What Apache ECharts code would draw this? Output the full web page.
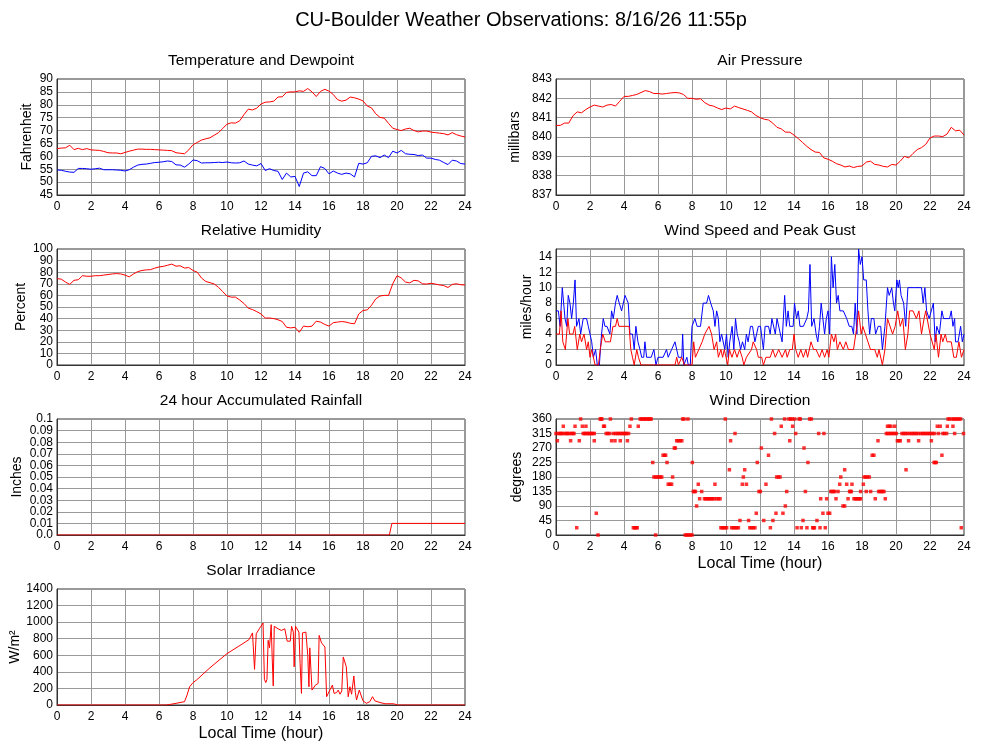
<!DOCTYPE html>
<html><head><meta charset="utf-8">
<script src="https://cdn.jsdelivr.net/npm/echarts@6/dist/echarts.min.js"></script>
<style>html,body{margin:0;padding:0;background:#fff}#c{width:1000px;height:745px}</style>
</head><body><div id="c"></div>
<script>
// ---- data ----
const STEP = 0.25; // hours between samples for the regular series
const tempF = [
 63.0,63.2,63.3,64.3, 62.6,63.1,62.6,63.0, 62.5,62.4,62.3,61.9, 61.4,61.3,61.3,61.0,
 61.5,62.0,62.4,62.8, 62.8,62.7,62.7,62.6, 62.5,62.4,62.3,62.2, 61.4,61.2,61.0,62.5,
 64.5,65.4,66.3,66.8, 67.2,68.2,69.2,70.8, 72.5,73.0,72.9,73.8, 76.2,78.3,78.0,78.7,
 80.3,81.0,81.1,81.4, 83.0,83.1,84.8,85.0, 85.0,85.4,85.2,86.3, 85.0,83.2,85.2,86.0,
 85.3,84.0,82.0,81.4, 81.8,83.0,82.7,82.2, 81.5,79.5,78.8,76.5, 75.1,74.8,72.8,70.9,
 70.4,70.0,70.6,70.9, 70.0,69.5,69.8,69.8, 69.4,69.2,69.0,68.8, 68.3,69.2,68.4,67.9, 67.5];
const dewF = [
 54.7,54.6,54.2,53.9, 53.8,55.3,55.3,55.2, 55.0,55.2,55.4,54.8, 54.8,54.8,54.7,54.6,
 54.3,54.8,55.8,56.6, 56.9,57.0,57.3,57.6, 57.7,57.9,58.2,58.0, 56.7,56.6,55.8,57.0,
 58.6,58.3,57.4,57.5, 57.5,57.6,57.7,57.6, 57.8,57.5,57.4,57.5, 58.2,57.0,56.6,56.3,
 57.2,54.5,55.2,54.5, 54.2,51.0,53.5,52.0, 52.2,48.3,53.5,54.0, 52.5,52.5,56.0,55.3,
 53.2,54.3,53.5,53.0, 53.5,53.2,52.0,57.3, 57.0,57.5,60.0,60.2, 59.5,60.5,59.5,62.0,
 61.3,62.3,61.0,60.8, 60.7,60.3,60.5,59.3, 59.3,58.8,58.5,57.6, 56.8,58.5,58.2,57.2, 57.0];
const pressureMb = [
 840.6,840.6,840.72,840.72, 841.1,841.3,841.25,841.42, 841.55,841.65,841.6,841.55, 841.65,841.68,841.6,841.85,
 842.1,842.1,842.15,842.2, 842.3,842.4,842.35,842.25, 842.25,842.22,842.25,842.28, 842.3,842.28,842.2,842.0,
 842.0,841.95,841.98,841.78, 841.65,841.6,841.5,841.42, 841.5,841.45,841.6,841.52, 841.45,841.38,841.3,841.12,
 841.0,840.92,840.88,840.72, 840.5,840.42,840.25,840.25, 840.1,839.92,839.72,839.52, 839.35,839.22,839.2,838.92,
 838.85,838.75,838.62,838.55, 838.45,838.5,838.42,838.48, 838.5,838.7,838.75,838.58, 838.55,838.48,838.45,838.58,
 838.55,838.75,839.0,838.92, 839.15,839.35,839.45,839.62, 839.95,840.05,840.05,840.02, 840.15,840.5,840.32,840.35, 840.1];
const humidityPct = [
 74.5,74.0,71.5,69.5, 73.0,73.5,77.0,76.5, 76.5,77.0,77.0,77.5, 78.0,78.5,78.8,78.5,
 77.5,76.0,78.5,80.5, 81.5,82.0,82.2,83.5, 84.5,85.0,86.0,87.0, 85.2,85.5,83.6,84.0,
 81.5,80.0,75.0,72.0, 71.0,69.8,67.0,63.2, 59.5,58.5,58.5,56.0, 53.0,49.0,47.8,46.0,
 44.0,40.5,40.5,40.0, 39.0,37.5,32.5,32.0, 32.5,28.2,33.5,33.0, 33.5,37.8,37.0,35.0,
 33.5,36.5,37.0,37.5, 37.0,36.0,35.5,44.0, 47.0,47.5,51.5,57.0, 59.5,60.0,60.0,70.0,
 77.0,75.0,71.5,70.8, 73.0,72.5,70.0,69.8, 70.5,69.8,69.0,68.5, 66.8,69.5,70.0,69.2, 69.0];
const windGust = [[0,7],[0.14,7],[0.24,5],[0.37,10],[0.53,6],[0.63,5],[0.72,9],[0.82,8],[0.92,6],[1.02,8],[1.12,11],[1.21,5],[1.35,6],[1.45,4],[1.6,6],[1.8,6],[1.9,5],[2.0,5],[2.1,3],[2.2,1],[2.33,2],[2.43,0],[2.55,0],[2.68,4],[2.78,6],[2.88,5],[3.0,5],[3.17,4],[3.27,7],[3.37,6],[3.5,8],[3.6,9],[3.72,8],[3.86,7],[3.96,7],[4.06,9],[4.15,9],[4.25,8],[4.35,4],[4.5,4],[4.6,2],[4.7,5],[4.82,3],[4.94,2],[5.04,1],[5.16,1],[5.23,3],[5.33,1],[5.6,1],[5.76,2],[5.88,0],[6.0,1],[6.3,1],[6.5,2],[6.6,1],[6.8,2],[7.0,3],[7.2,1],[7.4,1],[7.45,4],[7.52,0],[7.7,1],[7.78,0],[7.9,0],[8.0,5],[8.17,6],[8.3,5],[8.5,5],[8.66,8],[8.86,8],[8.97,9],[9.1,8],[9.25,7],[9.35,5],[9.45,7],[9.55,6],[9.64,3],[9.74,4],[9.83,4],[9.93,2],[10.03,4],[10.13,1],[10.22,3],[10.36,5],[10.46,2],[10.56,6],[10.66,4],[10.78,3],[10.86,2],[10.97,3],[11.1,2],[11.2,4],[11.3,3],[11.44,5],[11.56,5],[11.7,3],[11.9,5],[12.03,5],[12.2,2],[12.3,5],[12.5,5],[12.6,4],[12.7,6],[12.8,6],[12.9,4],[13.0,6],[13.1,6],[13.2,4],[13.3,3],[13.45,9],[13.55,5],[13.65,7],[13.75,5],[13.95,5],[14.03,8],[14.15,6],[14.25,7],[14.35,5],[14.55,5],[14.75,6],[14.85,7],[14.94,13],[15.04,5],[15.18,6],[15.3,4],[15.4,3],[15.5,5],[15.6,8],[15.7,8],[15.8,4],[15.9,6],[16.0,7],[16.1,4],[16.2,14],[16.3,10],[16.4,13],[16.5,8],[16.6,9],[16.7,7],[16.9,7],[17.1,6],[17.25,5],[17.4,5],[17.5,4],[17.6,8],[17.7,4],[17.8,15],[17.9,13],[18.0,14],[18.1,11],[18.25,11],[18.35,7],[18.45,4],[18.55,6],[18.7,6],[18.8,4],[18.95,5],[19.1,5],[19.2,2],[19.35,5],[19.5,10],[19.6,9],[19.75,10],[19.85,8],[19.93,7],[20.05,11],[20.13,10],[20.2,11],[20.3,9],[20.45,8],[20.57,5],[20.7,10],[21.1,10],[21.5,10],[21.6,8],[21.7,10],[21.8,7],[21.95,6],[22.05,6],[22.2,8],[22.3,3],[22.4,5],[22.55,4],[22.7,7],[22.8,6],[23.0,6],[23.15,6],[23.25,7],[23.35,5],[23.45,6],[23.5,3],[23.65,3],[23.8,5],[23.9,3],[24.0,4]];
const windSpeed = [[0,4],[0.2,4],[0.3,7],[0.4,3],[0.55,2],[0.7,6],[0.8,4],[1.0,4],[1.1,5],[1.25,2],[1.4,4],[1.5,3],[1.65,4],[1.8,2],[1.9,3],[2.0,1],[2.1,2],[2.3,0],[2.5,0],[2.6,2],[2.75,4],[2.9,3],[3.2,3],[3.35,5],[3.5,5],[3.6,6],[3.7,5],[4.0,5],[4.3,5],[4.4,2],[4.5,1],[4.6,0],[4.75,2],[4.85,1],[5.0,0],[6.0,0],[7.0,0],[7.1,1],[7.2,0],[7.4,1],[7.55,0],[8.0,0],[8.1,3],[8.2,1],[8.4,2],[8.6,3],[8.75,4],[9.0,5],[9.15,4],[9.3,2],[9.45,3],[9.55,1],[9.7,2],[9.8,1],[9.9,2],[10.0,1],[10.1,0],[10.2,2],[10.35,1],[10.5,2],[10.65,1],[10.8,2],[10.95,1],[11.05,0],[11.2,1],[11.5,2],[11.6,3],[11.8,2],[11.9,1],[12.1,1],[12.2,0],[12.35,1],[12.6,1],[12.75,2],[12.9,1],[13.1,2],[13.3,1],[13.5,2],[13.6,1],[13.75,2],[13.9,2],[14.0,4],[14.1,2],[14.25,1],[14.4,2],[14.55,1],[14.7,2],[14.8,1],[15.0,3],[15.15,2],[15.3,2],[15.5,1],[15.65,2],[15.8,1],[15.95,2],[16.05,1],[16.2,4],[16.35,3],[16.45,4],[16.55,2],[16.7,3],[16.9,2],[17.05,3],[17.2,2],[17.5,2],[17.7,5],[17.8,7],[17.95,4],[18.05,5],[18.2,4],[18.35,3],[18.5,2],[18.75,2],[18.9,1],[19.0,2],[19.2,0],[19.35,2],[19.5,6],[19.6,6],[19.8,4],[19.95,5],[20.1,7],[20.25,5],[20.4,6],[20.55,2],[20.7,4],[20.8,7],[21.0,7],[21.2,6],[21.35,7],[21.5,4],[21.65,6],[21.75,7],[22.0,4],[22.1,4],[22.25,2],[22.35,4],[22.5,1],[22.65,4],[22.75,3],[22.9,4],[23.0,3],[23.25,3],[23.4,1],[23.55,1],[23.7,3],[23.85,1],[24,2]];
const rainIn = [[0,0],[19.55,0],[19.7,0.01],[24,0.01]];
const solarW = [[0,0],[6.4,0],[6.6,5],[7.0,20],[7.5,40],[7.65,120],[7.8,220],[8.0,270],[8.2,300],[9.0,450],[10.0,620],[11.0,750],[11.3,790],[11.4,780],[11.5,870],[11.62,430],[11.72,860],[11.9,920],[12.12,990],[12.2,310],[12.28,270],[12.35,310],[12.42,780],[12.5,690],[12.6,970],[12.66,560],[12.72,230],[12.78,950],[13.0,920],[13.2,900],[13.4,920],[13.48,930],[13.54,770],[13.65,790],[13.72,770],[13.8,950],[13.9,880],[13.95,460],[14.03,950],[14.23,880],[14.3,500],[14.38,140],[14.44,870],[14.64,880],[14.75,600],[14.82,220],[14.87,690],[15.0,180],[15.05,200],[15.2,240],[15.36,260],[15.42,840],[15.56,750],[15.76,700],[15.86,100],[16.0,160],[16.1,180],[16.2,240],[16.3,140],[16.45,150],[16.54,180],[16.65,130],[16.75,170],[16.84,580],[16.93,590],[17.02,460],[17.13,100],[17.23,220],[17.33,130],[17.46,350],[17.55,150],[17.62,60],[17.72,60],[17.78,180],[18.0,50],[18.2,20],[18.4,40],[18.56,100],[18.7,50],[19.0,30],[19.3,15],[19.8,15],[20.05,0],[24,0]];
// wind direction observations grouped by compass direction (degrees -> hours)
const windDirGroups = [
 [360,[1.45,2.6,2.65,2.7,3.2,4.43,4.95,5.03,5.12,5.2,5.28,5.37,5.45,5.53,5.6,7.45,7.53,7.76,9.96,12.67,13.45,13.7,13.8,13.9,14.04,14.3,14.37,14.92,15.02,23.06,23.15,23.3,23.4,23.5,23.6,23.7,23.8]],
 [337.5,[0.43,1.12,1.55,1.76,2.8,2.85,4.35,4.84,13.25,13.92,19.5,19.6,19.7,19.92,22.43,22.6,23.02,23.35]],
 [315,[0,0.16,0.24,0.32,0.4,0.53,0.62,0.7,0.78,0.92,0.99,1.06,1.6,1.68,1.76,1.84,1.92,2.0,2.08,2.17,2.25,2.95,3.05,3.15,3.37,3.5,3.6,3.7,3.8,3.9,4.0,4.08,4.15,4.27,10.53,12.86,14.1,15.45,15.76,19.43,19.52,19.62,19.72,19.82,19.92,20.02,20.35,20.45,20.55,20.65,20.78,20.9,21.0,21.1,21.2,21.3,21.45,21.55,21.65,21.75,21.85,21.95,22.05,22.15,22.27,22.5,22.76,22.85,22.98,23.45,23.97]],
 [292.5,[0.08,0.86,1.37,2.25,3.27,3.47,3.78,4.2,7.1,7.2,7.3,7.4,10.27,13.75,18.94,20.08,20.17,20.25,20.74,21.33,22.08]],
 [270,[6.96,7.02,12.08,14.59]],
 [247.5,[6.3,6.38,6.45,12.5,18.6,18.7,22.7]],
 [225,[5.69,6.53,8.02,11.84,14.82,22.24,22.3,22.37]],
 [202.5,[10.2,11.1,16.98,20.59]],
 [180,[5.76,5.85,5.95,6.05,6.14,6.22,6.86,11.02,12.98,13.08,13.18,16.75,18.12,18.22,18.32,18.43]],
 [157.5,[6.6,6.7,6.8,8.37,9.35,10.96,11.2,12.35,16.69,17.1,17.41,18.08]],
 [135,[8.08,8.14,8.2,8.57,11.94,12.02,13.57,14.67,16.16,16.24,16.32,16.39,16.59,17.27,17.32,17.37,17.92,18.25,18.51,18.98,19.06,19.14,19.22,19.29]],
 [112.5,[8.45,8.73,8.81,8.89,8.97,9.05,9.13,9.21,9.3,9.45,9.55,9.65,15.57,15.92,16.47,17.18,17.53,17.61,17.69,17.77,17.85,17.92,18.78,19.37]],
 [90,[8.27,13.49,16.88,16.98]],
 [67.5,[2.37,11.78,12.94,13.35,15.7,16.0,16.1]],
 [45,[10.82,11.33,12.22,12.76,14.53,15.35]],
 [22.5,[1.22,4.55,4.63,4.7,4.78,9.7,9.78,9.86,9.95,10.04,10.33,10.43,10.53,10.63,10.73,11.4,11.5,11.6,11.7,12.61,14.18,14.43,14.76,15.1,15.15,15.2,15.53,15.84,23.84]],
 [0,[2.47,5.86,7.6,7.7,7.8,7.9,8.0]]
];
const hourTicks = {min:0, max:24, interval:2};

// ---- build chart ----
const regular = arr => arr.map((v,i)=>[i*STEP, v]);
const windDir = windDirGroups.flatMap(([deg,hrs]) => hrs.map(h=>[h,deg]));

const FONT = '"Liberation Sans", Arial, Helvetica, sans-serif';
const L = 57, R = 556, W = 408, H = 116, tops = [79, 249, 419, 589];
const gridPos = [[L,tops[0]],[R,tops[0]],[L,tops[1]],[R,tops[1]],[L,tops[2]],[R,tops[2]],[L,tops[3]]];
const grids = gridPos.map(([l,t]) => ({left:l, top:t, width:W, height:H, show:true, borderColor:'#333', borderWidth:1, containLabel:false}));

const xAxes = gridPos.map((p,i) => ({
  type:'value', gridIndex:i, min:hourTicks.min, max:hourTicks.max, interval:hourTicks.interval,
  axisLine:{show:true, lineStyle:{color:'#333'}}, axisTick:{show:false},
  splitLine:{show:true, lineStyle:{color:'#999', width:1}},
  axisLabel:{color:'#000', fontSize:12, fontFamily:FONT, margin:6, showMinLabel:true, showMaxLabel:true, hideOverlap:false},
  name: (i===5||i===6) ? 'Local Time (hour)' : '', nameLocation:'middle', nameGap:21,
  nameTextStyle:{color:'#000', fontSize:16, fontFamily:FONT}
}));

function yAx(i, min, max, interval, name, gap, fmt, showMin, showMax) {
  return {
    type:'value', gridIndex:i, position:'left', min, max, interval,
    axisLine:{show:true, lineStyle:{color:'#333'}}, axisTick:{show:false},
    splitLine:{show:true, lineStyle:{color:'#999', width:1}},
    axisLabel:{color:'#000', fontSize:12, fontFamily:FONT, margin:4,
      showMinLabel: showMin!==false, showMaxLabel: showMax!==false, hideOverlap:false,
      formatter: fmt || (v=>String(v))},
    name, nameLocation:'middle', nameGap:gap,
    nameTextStyle:{color:'#000', fontSize:14, fontFamily:FONT}
  };
}
// end labels only (for dense axes where ECharts would otherwise drop a label)
function yEnds(i, min, max, fmt) {
  return {
    type:'value', gridIndex:i, position:'left', min, max, interval:max-min,
    axisLine:{show:false}, axisTick:{show:false}, splitLine:{show:false},
    axisLabel:{color:'#000', fontSize:12, fontFamily:FONT, margin:4, showMinLabel:true, showMaxLabel:true,
      formatter: fmt || (v=>String(v))}
  };
}
const rainFmt = v=>{ if (Math.abs(v)<1e-9) return '0.0'; if (Math.abs(v-0.1)<1e-9) return '0.1'; return v.toFixed(2);};
const yAxes = [
  yAx(0, 45, 90, 5, 'Fahrenheit', 23),
  yAx(1, 837, 843, 1, 'millibars', 34),
  yAx(2, 0, 100, 10, 'Percent', 29, null, false, false),
  yAx(3, 0, 15, 2, 'miles/hour', 22, v=> v===15?'':String(v), true, false),
  yAx(4, 0, 0.1, 0.01, 'Inches', 33, rainFmt, false, false),
  yAx(5, 0, 360, 45, 'degrees', 32),
  yAx(6, 0, 1400, 200, 'W/m\u00B2', 35),
  yEnds(2, 0, 100),
  yEnds(4, 0, 0.1, rainFmt)
];

function line(i, data, color) {
  return {type:'line', xAxisIndex:i, yAxisIndex:i, data, showSymbol:false, symbol:'none',
    lineStyle:{color, width:1}, itemStyle:{color}, animation:false, silent:true};
}
const RED = '#ff0000', BLUE = '#0000ff';
const series = [
  line(0, regular(tempF), RED),
  line(0, regular(dewF), BLUE),
  line(1, regular(pressureMb), RED),
  line(2, regular(humidityPct), RED),
  line(3, windGust, BLUE),
  line(3, windSpeed, RED),
  line(4, rainIn, RED),
  {type:'scatter', xAxisIndex:5, yAxisIndex:5, data:windDir, symbol:'rect', symbolSize:3.5,
   itemStyle:{color:RED}, animation:false, silent:true},
  line(6, solarW, RED)
];

function txt(x, y, text, size) {
  return {type:'text', x, y, silent:true,
    style:{text, fill:'#000', fontSize:size, fontFamily:FONT,
      textAlign:'center', textVerticalAlign:'middle', align:'center', verticalAlign:'middle'}};
}
const cL = L + W/2, cR = R + W/2;
const graphics = [
  txt(521, 20, 'CU-Boulder Weather Observations: 8/16/26 11:55p', 20),
  txt(cL, 61, 'Temperature and Dewpoint', 15.5),
  txt(cR, 61, 'Air Pressure', 15.5),
  txt(cL, 231, 'Relative Humidity', 15.5),
  txt(cR, 231, 'Wind Speed and Peak Gust', 15.5),
  txt(cL, 401, '24 hour Accumulated Rainfall', 15.5),
  txt(cR, 401, 'Wind Direction', 15.5),
  txt(cL, 571, 'Solar Irradiance', 15.5)
];

const chart = echarts.init(document.getElementById('c'), null, {renderer:'canvas'});
chart.setOption({
  backgroundColor:'#fff', animation:false,
  grid:grids, xAxis:xAxes, yAxis:yAxes, series, graphic:graphics
});
</script></body></html>
